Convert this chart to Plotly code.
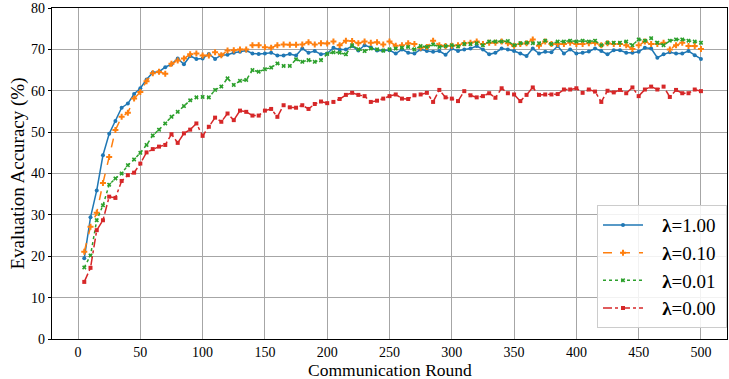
import plotly.graph_objects as go

rounds = [5, 10, 15, 20, 25, 30, 35, 40, 45, 50, 55, 60, 65, 70, 75, 80, 85, 90, 95, 100,
          105, 110, 115, 120, 125, 130, 135, 140, 145, 150, 155, 160, 165, 170, 175, 180, 185, 190, 195, 200,
          205, 210, 215, 220, 225, 230, 235, 240, 245, 250, 255, 260, 265, 270, 275, 280, 285, 290, 295, 300,
          305, 310, 315, 320, 325, 330, 335, 340, 345, 350, 355, 360, 365, 370, 375, 380, 385, 390, 395, 400,
          405, 410, 415, 420, 425, 430, 435, 440, 445, 450, 455, 460, 465, 470, 475, 480, 485, 490, 495, 500]

acc_lambda_1_00 = [19.5, 29.4, 35.9, 44.4, 49.6, 52.7, 55.9, 56.9, 59.2, 60.6, 62.7, 64.4, 64.6, 65.7, 66.4, 67.8, 66.4, 68.4, 67.7, 67.8,
                   68.9, 67.7, 68.6, 68.7, 69.2, 69.4, 69.7, 69.0, 68.9, 69.0, 69.2, 68.5, 68.5, 68.9, 68.5, 70.2, 69.2, 69.6, 68.8, 69.0,
                   70.4, 70.0, 70.0, 70.8, 69.7, 71.0, 70.5, 69.7, 69.7, 69.8, 69.0, 70.0, 69.2, 69.0, 70.0, 69.6, 69.4, 69.6, 68.7, 70.2,
                   69.6, 70.0, 70.2, 70.8, 70.0, 68.8, 69.2, 70.2, 70.0, 69.6, 69.0, 68.4, 70.2, 69.0, 69.4, 69.3, 70.8, 69.0, 70.0, 69.0,
                   69.2, 69.5, 70.2, 69.6, 68.8, 69.8, 69.8, 69.2, 69.2, 69.4, 70.4, 70.2, 68.0, 68.8, 69.3, 69.0, 69.0, 69.6, 68.6, 67.7]

acc_lambda_0_10 = [21.1, 27.1, 30.5, 37.7, 44.0, 50.5, 53.7, 54.7, 58.1, 59.7, 62.3, 64.2, 64.6, 64.1, 66.5, 67.3, 67.8, 68.8, 69.0, 68.5,
                   68.5, 69.3, 68.6, 69.7, 69.8, 70.0, 70.0, 71.0, 71.0, 70.5, 70.4, 71.0, 71.2, 71.1, 71.1, 71.2, 71.7, 71.2, 71.5, 71.4,
                   71.9, 71.0, 72.1, 72.0, 71.5, 71.9, 71.6, 71.7, 71.2, 71.9, 70.9, 71.0, 71.5, 71.3, 70.4, 70.6, 72.1, 71.0, 70.8, 70.9,
                   71.0, 71.5, 71.6, 71.9, 71.3, 71.6, 71.6, 71.9, 71.5, 70.9, 71.3, 71.5, 72.4, 70.9, 71.9, 71.3, 71.3, 71.3, 71.6, 71.3,
                   71.3, 71.5, 71.6, 71.0, 71.5, 71.3, 71.3, 71.0, 70.1, 71.0, 71.9, 71.3, 71.3, 71.6, 70.0, 71.0, 71.6, 70.8, 70.8, 70.1]

acc_lambda_0_01 = [17.3, 20.2, 28.7, 32.3, 37.3, 38.8, 40.0, 42.0, 43.4, 45.0, 46.9, 49.2, 50.6, 52.1, 53.7, 54.9, 56.3, 57.7, 58.4, 58.5,
                   58.4, 60.2, 61.0, 63.0, 61.4, 62.4, 62.6, 65.0, 64.6, 65.2, 65.6, 66.6, 66.0, 66.0, 67.6, 67.0, 67.4, 67.0, 67.4, 68.9,
                   69.3, 69.2, 68.8, 71.0, 70.0, 69.6, 70.2, 70.0, 69.7, 70.0, 70.2, 70.4, 70.6, 70.0, 70.8, 70.6, 71.2, 70.6, 70.8, 71.0,
                   70.7, 71.3, 71.3, 71.5, 71.0, 71.9, 71.9, 71.9, 72.0, 71.0, 71.5, 71.6, 71.5, 71.5, 72.1, 71.3, 71.9, 71.9, 72.1, 71.9,
                   72.1, 71.9, 72.1, 71.0, 71.6, 71.6, 71.6, 71.9, 71.0, 72.4, 72.1, 72.7, 71.6, 71.0, 72.1, 72.4, 72.4, 72.1, 71.9, 71.6]

acc_lambda_0_00 = [13.8, 17.2, 26.3, 28.7, 34.4, 34.1, 38.2, 39.6, 40.2, 42.4, 45.1, 45.9, 46.5, 46.9, 49.5, 47.4, 49.7, 50.6, 52.1, 49.1,
                   51.3, 53.5, 52.5, 54.5, 52.9, 55.2, 54.9, 54.0, 54.0, 55.2, 55.6, 53.7, 56.5, 56.0, 55.9, 56.5, 55.6, 56.8, 57.4, 57.0,
                   57.3, 58.0, 59.0, 59.5, 59.0, 58.7, 57.3, 57.6, 58.1, 58.7, 59.1, 58.1, 58.0, 58.9, 59.1, 59.5, 57.3, 60.2, 58.4, 58.1,
                   57.5, 59.9, 58.9, 58.4, 58.7, 59.4, 58.3, 60.6, 59.4, 59.1, 57.5, 59.0, 60.8, 59.0, 59.1, 59.1, 59.2, 60.3, 60.3, 60.6,
                   59.5, 60.3, 59.8, 57.3, 60.0, 59.6, 60.2, 59.4, 60.8, 58.7, 60.3, 61.0, 60.3, 61.0, 58.5, 60.2, 59.4, 59.4, 60.3, 59.9]

series_names = ["\u00a0\u00a0\u00a0<b>λ</b>=1.00\u00a0", "\u00a0\u00a0\u00a0<b>λ</b>=0.10\u00a0",
                "\u00a0\u00a0\u00a0<b>λ</b>=0.01\u00a0", "\u00a0\u00a0\u00a0<b>λ</b>=0.00\u00a0"]
x_ticks = [0, 50, 100, 150, 200, 250, 300, 350, 400, 450, 500]
y_ticks = [0, 10, 20, 30, 40, 50, 60, 70, 80]
x_title = "Communication Round"
y_title = "Evaluation Accuracy (%)"

styles = [
    dict(color="#1f77b4", dash="solid", symbol="circle", size=4),
    dict(color="#ff7f0e", dash="dash", symbol="cross", size=5),
    dict(color="#2ca02c", dash="dot", symbol="x", size=4),
    dict(color="#d62728", dash="dashdot", symbol="square", size=4),
]

fig = go.Figure()
for ys, name, st in zip([acc_lambda_1_00, acc_lambda_0_10, acc_lambda_0_01, acc_lambda_0_00], series_names, styles):
    fig.add_trace(go.Scatter(
        x=rounds, y=ys, name=name, mode="lines+markers",
        line=dict(color=st["color"], dash=st["dash"], width=1.5),
        marker=dict(color=st["color"], symbol=st["symbol"], size=st["size"], line=dict(width=0)),
    ))

font_family = "Times New Roman, Liberation Serif, DejaVu Serif, serif"
W, H = 729, 379
ML, MR, MT, MB = 52, 2, 8, 40
fig.update_layout(
    width=W, height=H,
    margin=dict(l=ML, r=MR, t=MT, b=MB, autoexpand=False),
    paper_bgcolor="white", plot_bgcolor="white",
    font=dict(family=font_family, color="black", size=14),
    legend=dict(
        x=1.0, y=0.033, xanchor="right", yanchor="bottom",
        bgcolor="rgba(255,255,255,0.85)", bordercolor="#cccccc", borderwidth=1,
        font=dict(family=font_family, size=19, color="black"),
        tracegroupgap=0, itemwidth=40,
    ),
    xaxis=dict(
        range=[-20.9, 520.9], tickvals=x_ticks, ticks="", ticklabelstandoff=0,
        showgrid=True, gridcolor="#a6a6a6", gridwidth=1.2, zeroline=False,
        showline=True, linecolor="black", linewidth=1.2, mirror=True,
        tickfont=dict(size=14), automargin=False,
    ),
    yaxis=dict(
        range=[0, 80], tickvals=y_ticks, ticks="outside", ticklen=3, tickcolor="black",
        showgrid=True, gridcolor="#a6a6a6", gridwidth=1.2, zeroline=False,
        showline=True, linecolor="black", linewidth=1.2, mirror=True,
        tickfont=dict(size=14), automargin=False,
    ),
    annotations=[
        dict(text=x_title, xref="paper", yref="paper", x=0.5, y=-(370 - (H - MB)) / (H - MT - MB),
             xanchor="center", yanchor="middle", showarrow=False, font=dict(size=17.5)),
        dict(text=y_title, xref="paper", yref="paper", x=-(ML - 17) / (W - ML - MR), y=0.5,
             xanchor="center", yanchor="middle", textangle=-90, showarrow=False, font=dict(size=19)),
    ],
)

fig.write_html("out.html", config={"displayModeBar": False},
               post_script="document.body.style.margin='0';document.body.style.padding='0';")
